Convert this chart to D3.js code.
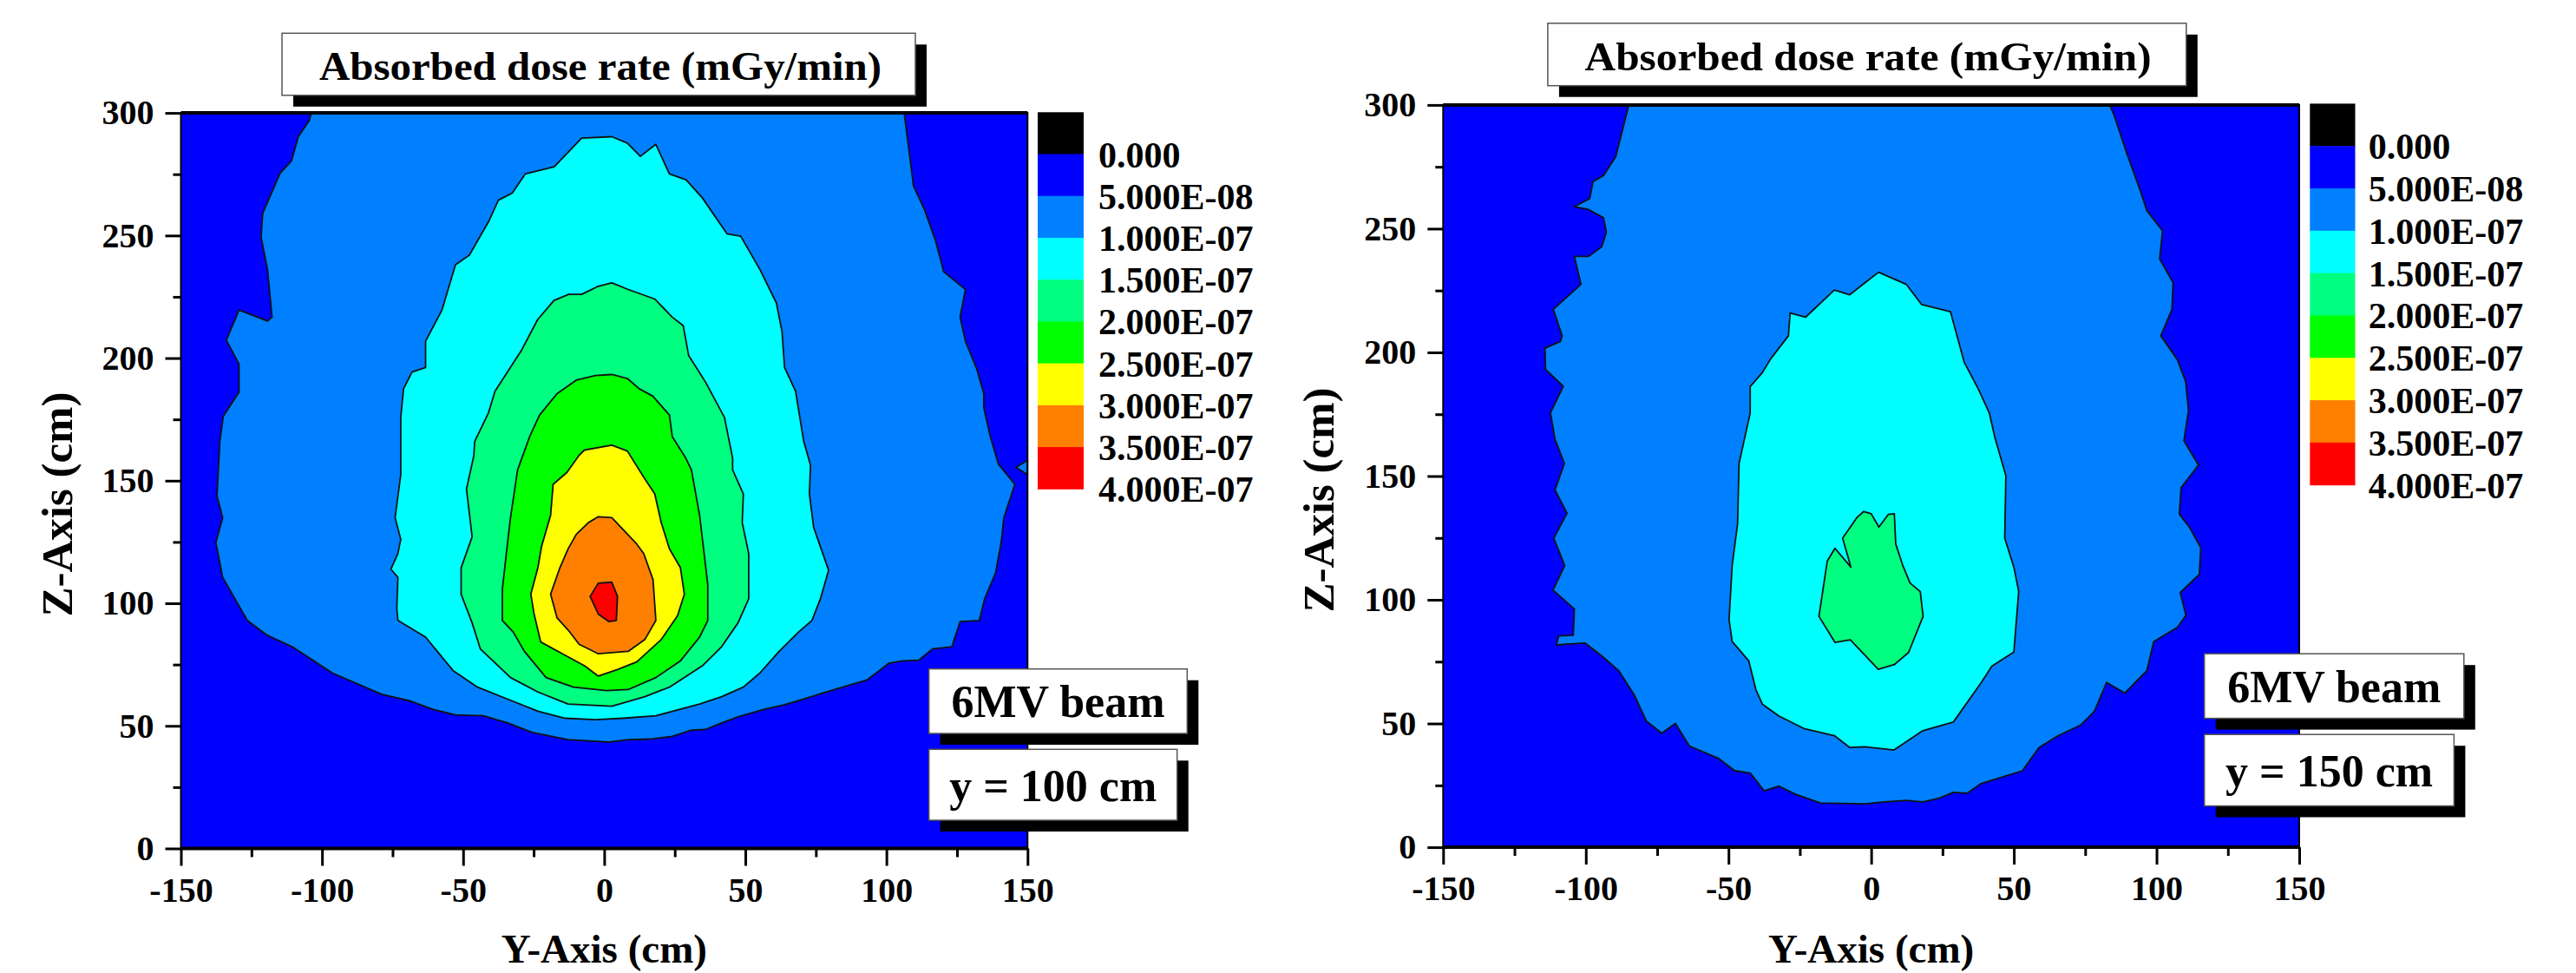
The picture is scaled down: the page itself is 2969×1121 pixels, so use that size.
<!DOCTYPE html>
<html>
<head>
<meta charset="utf-8">
<script src="https://cdnjs.cloudflare.com/ajax/libs/d3/7.8.5/d3.min.js"></script>
<style>
  body { margin: 0; background: #fff; }
  text { font-family: "Liberation Serif", "Times New Roman", serif; font-weight: bold; fill: #000; }
</style>
</head>
<body>
<svg id="chart" width="2969" height="1121"></svg>
<script>
// colour levels (mGy/min)
var levelLabels = ["0.000", "5.000E-08", "1.000E-07", "1.500E-07", "2.000E-07",
                   "2.500E-07", "3.000E-07", "3.500E-07", "4.000E-07"];
var levelColors = ["#000000", "#0000ff", "#0080ff", "#00ffff", "#00ff80",
                   "#00ff00", "#ffff00", "#ff8000", "#ff0000"];
var yTicks = [-150, -100, -50, 0, 50, 100, 150];
var zTicks = [0, 50, 100, 150, 200, 250, 300];

// contour boundaries, [Y cm, Z cm]
// y = 100 cm
var left5e8 = [[-103.8,300],[-104.5,296.9],[-108.4,290.3],[-110.8,280.5],[-112.3,278.6],[-114.8,275.5],[-121.0,259.1],[-121.6,249.4],[-119.3,236.1],[-117.7,216.7],[-119.3,215.1],[-129.4,219.6],[-133.9,207.3],[-129.4,197.6],[-129.4,186.1],[-135.0,176.2],[-136.2,166.0],[-137.2,143.7],[-135.2,134.9],[-137.6,124.8],[-135.2,110.6],[-126.5,93.0],[-119.7,87.2],[-110.0,81.9],[-96.4,71.6],[-78.9,62.9],[-69.2,60.3],[-60.4,56.6],[-52.7,54.5],[-42.9,54.1],[-34.2,51.2],[-25.5,47.3],[-12.8,44.4],[1.7,43.4],[8.5,44.4],[16.3,44.6],[24.1,45.7],[30.9,48.3],[35.8,48.5],[41.6,51.2],[47.4,53.7],[56.2,56.6],[63.9,58.6],[70.7,60.9],[78.5,63.8],[86.3,66.4],[93.1,68.7],[100.8,75.5],[105.7,76.5],[111.5,76.8],[116.4,81.4],[123.2,82.3],[126.1,92.5],[132.9,93.0],[134.8,101.8],[138.7,112.5],[140.7,125.2],[141.6,134.9],[145.5,148.5],[139.7,156.7],[136.8,168.0],[134.5,179.7],[134.5,185.5],[132.0,195.6],[128.0,206.9],[126.1,216.7],[128.0,228.0],[120.3,235.2],[117.4,247.8],[113.5,260.5],[109.6,270.2],[106.3,300]];
var left5e8Edge = [[145.9,155.4],[150,158.3],[150,152.5]];
var left1e7 = [[-8.0,289.7],[2.7,290.3],[8.2,287.7],[12.8,282.3],[18.3,287.2],[23.1,275.1],[29.0,272.7],[34.8,265.3],[43.5,250.7],[48.4,249.7],[55.2,236.1],[61.0,222.5],[63.0,210.8],[63.9,196.2],[67.8,186.5],[70.7,166.0],[73.1,156.3],[72.7,144.6],[74.2,131.0],[79.5,113.5],[76.6,101.8],[73.6,93.0],[68.8,88.2],[62.0,80.4],[55.2,71.6],[49.3,65.8],[41.6,61.9],[33.8,58.9],[18.3,54.1],[6.6,53.1],[-3.1,52.5],[-13.8,53.1],[-23.5,56.0],[-34.2,60.9],[-44.9,65.8],[-53.6,72.6],[-63.3,86.2],[-73.1,93.0],[-73.5,97.9],[-73.1,110.6],[-75.6,113.9],[-73.1,120.3],[-72.1,126.1],[-74.1,134.9],[-72.1,152.4],[-72.1,175.8],[-71.1,187.5],[-68.1,194.3],[-63.3,196.2],[-63.3,206.9],[-57.5,219.6],[-52.7,238.1],[-47.8,242.0],[-41.0,255.6],[-37.5,264.4],[-32.6,267.3],[-28.0,275.1],[-17.7,278.0]];
var left15e8 = [[-8.0,226.0],[-2.1,229.3],[2.7,230.7],[8.5,228.0],[17.9,224.1],[24.1,216.7],[28.0,213.2],[29.9,201.1],[35.8,190.4],[42.6,175.8],[45.5,159.2],[45.5,154.4],[49.3,144.6],[48.9,132.9],[51.2,120.3],[51.2,101.8],[47.4,92.0],[41.6,82.3],[34.8,74.5],[23.1,65.8],[14.4,61.9],[2.7,58.0],[-12.8,58.9],[-23.5,63.8],[-33.2,69.7],[-43.9,81.4],[-46.8,92.0],[-50.7,103.7],[-50.7,114.5],[-46.8,127.1],[-48.8,146.6],[-46.2,160.2],[-45.9,166.0],[-41.0,177.7],[-38.7,186.5],[-29.4,203.0],[-23.6,215.7],[-17.8,223.5],[-12.6,226.0]];
var left2e7 = [[-3.1,192.9],[2.7,193.3],[8.2,191.7],[12.4,187.5],[17.2,184.5],[23.1,176.8],[24.1,168.0],[28.9,159.2],[30.9,154.4],[33.8,135.9],[36.7,107.6],[36.7,93.0],[33.8,86.2],[27.0,76.5],[18.3,69.7],[8.5,64.8],[0.8,64.4],[-10.9,65.8],[-20.6,69.7],[-28.3,80.4],[-32.2,88.2],[-36.1,93.0],[-36.1,105.7],[-34.2,125.2],[-33.2,134.9],[-30.7,154.4],[-26.4,168.0],[-22.9,176.8],[-16.7,185.5],[-9.9,191.0]];
var left25e8 = [[-7.0,162.5],[2.7,164.5],[8.2,162.1],[14.0,151.4],[17.9,144.6],[20.2,132.9],[23.1,122.2],[27.0,114.5],[28.4,103.7],[26.0,95.0],[20.2,85.2],[11.5,76.1],[4.7,73.0],[-2.1,70.3],[-7.0,74.5],[-14.8,79.4],[-22.5,84.2],[-24.9,95.9],[-26.0,103.7],[-23.5,114.5],[-22.2,123.2],[-19.0,135.9],[-18.1,148.5],[-13.2,153.4],[-9.0,160.2]];
var left3e7 = [[-2.1,135.3],[2.7,134.9],[11.5,124.2],[14.0,120.3],[17.3,109.6],[18.3,93.0],[14.4,85.2],[8.5,80.4],[-2.1,79.4],[-8.9,83.3],[-12.8,89.1],[-16.7,94.0],[-19.0,103.7],[-15.7,114.5],[-12.8,122.2],[-9.9,128.1],[-5.6,132.9]];
var left35e8 = [[-2.1,108.2],[2.7,108.6],[4.7,102.8],[4.3,93.0],[1.7,92.5],[-2.1,95.6],[-5.0,102.8]];

// y = 150 cm
var right5e8 = [[-85.0,299.7],[-89.5,279.1],[-93.8,271.5],[-97.5,269.0],[-98.6,262.2],[-104.0,258.9],[-99.0,257.7],[-93.8,254.4],[-92.8,248.5],[-94.4,242.7],[-99.0,238.8],[-104.0,238.8],[-101.7,227.5],[-111.4,217.4],[-108.3,206.7],[-108.9,204.4],[-114.3,201.7],[-114.1,193.1],[-107.9,186.3],[-112.4,175.6],[-110.8,164.9],[-107.5,155.1],[-110.8,144.4],[-106.6,135.0],[-111.2,124.9],[-107.4,113.8],[-111.5,103.9],[-104.0,96.3],[-104.4,85.7],[-109.5,85.4],[-110.3,81.7],[-107.0,82.1],[-100.2,82.5],[-94.4,77.3],[-88.5,71.4],[-83.1,61.7],[-78.8,51.0],[-73.4,46.1],[-68.6,50.0],[-63.7,40.9],[-53.6,36.0],[-47.8,30.9],[-42.4,30.0],[-37.5,22.8],[-32.3,24.7],[-26.5,21.4],[-17.8,17.9],[-2.2,17.5],[4.5,18.3],[12.3,18.9],[18.1,18.3],[23.9,19.8],[28.8,22.2],[33.6,21.8],[38.5,25.7],[53.0,30.9],[58.8,40.3],[65.6,45.1],[73.4,49.4],[78.2,54.9],[82.5,66.6],[88.9,62.3],[96.6,71.4],[99.0,83.1],[107.3,88.9],[110.3,93.8],[108.3,102.9],[115.0,110.3],[115.5,121.0],[111.6,129.2],[108.0,134.6],[108.6,145.3],[114.7,154.5],[109.6,164.3],[111.2,176.5],[110.2,188.2],[107.3,197.0],[101.5,206.7],[105.4,217.4],[105.8,228.1],[101.1,237.8],[102.1,249.1],[96.6,257.3],[94.1,266.0],[89.8,279.7],[85.0,296.2],[83.6,300]];
var right1e7 = [[2.6,232.4],[12.3,227.5],[17.7,219.3],[27.8,216.4],[32.6,196.0],[37.5,185.3],[41.4,175.5],[43.3,165.8],[47.2,150.2],[46.8,124.9],[50.0,113.2],[51.7,103.4],[50.0,78.9],[42.3,73.2],[38.5,66.4],[28.8,50.6],[18.1,47.1],[8.0,39.3],[-2.2,40.6],[-7.5,40.3],[-12.9,45.1],[-23.6,48.0],[-32.3,53.0],[-38.1,57.8],[-40.4,63.7],[-42.9,75.3],[-48.7,83.1],[-49.8,91.9],[-48.7,114.1],[-46.8,130.8],[-46.3,155.1],[-42.4,175.5],[-42.4,186.2],[-38.1,191.9],[-35.2,197.4],[-29.0,206.7],[-28.4,215.9],[-23.0,214.2],[-12.9,225.2],[-7.5,223.3],[-1.7,228.6]];
var right15e8 = [[-2.6,135.7],[-5.1,133.1],[-10.0,124.9],[-7.1,113.2],[-12.7,120.8],[-15.4,115.6],[-18.3,93.3],[-12.7,82.8],[-7.3,83.8],[2.5,71.9],[8.1,73.8],[13.1,78.7],[18.2,93.3],[17.2,103.3],[13.6,106.8],[11.1,113.8],[8.6,122.6],[8.1,134.8],[6.0,134.5],[2.7,129.4],[0.0,134.8]];

var panels = [
  { x0: 208.5, x1: 1184.3, top: 130.1, bottom: 977.5,
    bar: { x: 1196, w: 53, top: 129.3, bottom: 563.3, labelX: 1266 },
    title: { x: 325, y: 38.3, w: 730, h: 71.5, tx: 368, tw: 648 },
    boxes: [ { x: 1070.7, y: 770.7, w: 297.6, h: 74.3, text: "6MV beam" },
             { x: 1070.7, y: 863.3, w: 286, h: 81.7, text: "y = 100 cm" } ],
    zLabelY: 581,
    contours: [ { level: 2, pts: left5e8 }, { level: 2, pts: left5e8Edge },
                { level: 3, pts: left1e7 }, { level: 4, pts: left15e8 },
                { level: 5, pts: left2e7 }, { level: 6, pts: left25e8 },
                { level: 7, pts: left3e7 }, { level: 8, pts: left35e8 } ] },
  { x0: 1663.3, x1: 2650, top: 120.9, bottom: 976.1,
    bar: { x: 2662.3, w: 52.2, top: 119.4, bottom: 558.7, labelX: 2729.7 },
    title: { x: 1783.9, y: 26.8, w: 735.9, h: 71.9, tx: 1826.6, tw: 653 },
    boxes: [ { x: 2540.7, y: 753.2, w: 299.1, h: 74.4, text: "6MV beam" },
             { x: 2540.7, y: 846.2, w: 287.7, h: 82.3, text: "y = 150 cm" } ],
    zLabelY: 576,
    contours: [ { level: 2, pts: right5e8 }, { level: 3, pts: right1e7 },
                { level: 4, pts: right15e8 } ] }
];

var svg = d3.select("#chart");
svg.append("rect").attr("width", 2969).attr("height", 1121).attr("fill", "#fff");

function shadowBox(g, x, y, w, h, off) {
  g.append("rect").attr("x", x + off).attr("y", y + off).attr("width", w).attr("height", h)
    .attr("fill", "#000");
  g.append("rect").attr("x", x).attr("y", y).attr("width", w).attr("height", h)
    .attr("fill", "#fff").attr("stroke", "#555").attr("stroke-width", 1.5);
}

function drawPanel(p, idx) {
  var g = svg.append("g");
  var x = d3.scaleLinear().domain([-150, 150]).range([p.x0, p.x1]);
  var y = d3.scaleLinear().domain([0, 300]).range([p.bottom, p.top]);

  g.append("clipPath").attr("id", "clip" + idx)
    .append("rect").attr("x", p.x0).attr("y", p.top)
    .attr("width", p.x1 - p.x0).attr("height", p.bottom - p.top);

  var plot = g.append("g").attr("clip-path", "url(#clip" + idx + ")");
  plot.append("rect").attr("x", p.x0).attr("y", p.top)
    .attr("width", p.x1 - p.x0).attr("height", p.bottom - p.top)
    .attr("fill", levelColors[1]);

  var line = d3.line().x(function(d) { return x(d[0]); })
                      .y(function(d) { return y(d[1]); })
                      .curve(d3.curveLinearClosed);
  plot.selectAll("path.level")
    .data(p.contours)
    .enter().append("path")
    .attr("class", "level")
    .attr("d", function(d) { return line(d.pts); })
    .attr("fill", function(d) { return levelColors[d.level]; })
    .attr("stroke", "#111")
    .attr("stroke-width", 1.8)
    .attr("stroke-linejoin", "round");

  // frame
  g.append("rect").attr("x", p.x0).attr("y", p.top)
    .attr("width", p.x1 - p.x0).attr("height", p.bottom - p.top)
    .attr("fill", "none").attr("stroke", "#000").attr("stroke-width", 2);
  g.append("line").attr("x1", p.x0).attr("x2", p.x1).attr("y1", p.top).attr("y2", p.top)
    .attr("stroke", "#000").attr("stroke-width", 4);
  g.append("line").attr("x1", p.x0).attr("x2", p.x1).attr("y1", p.bottom).attr("y2", p.bottom)
    .attr("stroke", "#000").attr("stroke-width", 4);

  // axes: minor ticks then major ticks
  var plain = function(d) { return String(d); };
  var minorY = d3.range(-125, 150, 50), minorZ = d3.range(25, 300, 50);
  var bx = g.append("g").attr("transform", "translate(0," + p.bottom + ")");
  bx.call(d3.axisBottom(x).tickValues(minorY).tickSize(10).tickFormat(""));
  bx.append("g").call(d3.axisBottom(x).tickValues(yTicks).tickSize(20).tickPadding(13).tickFormat(plain));
  var lx = g.append("g").attr("transform", "translate(" + p.x0 + ",0)");
  lx.call(d3.axisLeft(y).tickValues(minorZ).tickSize(9).tickFormat(""));
  lx.append("g").call(d3.axisLeft(y).tickValues(zTicks).tickSize(18).tickPadding(13).tickFormat(plain));
  g.selectAll(".domain").remove();
  g.selectAll(".tick line").attr("stroke", "#000").attr("stroke-width", 3);
  g.selectAll(".tick text")
    .style("font-family", "'Liberation Serif', 'Times New Roman', serif")
    .style("font-weight", "bold").style("font-size", "40px").attr("fill", "#000");

  // axis titles
  g.append("text").attr("x", (p.x0 + p.x1) / 2).attr("y", 1109)
    .attr("text-anchor", "middle").style("font-size", "47px").text("Y-Axis (cm)");
  g.append("text")
    .attr("transform", "translate(" + (p.x0 - 126) + "," + p.zLabelY + ") rotate(-90)")
    .attr("text-anchor", "middle").style("font-size", "51px").text("Z-Axis (cm)");

  // colour bar
  var bs = d3.scaleLinear().domain([0, levelColors.length]).range([p.bar.top, p.bar.bottom]);
  g.selectAll("rect.band").data(levelColors).enter().append("rect")
    .attr("class", "band")
    .attr("x", p.bar.x).attr("width", p.bar.w)
    .attr("y", function(d, i) { return bs(i); })
    .attr("height", function(d, i) { return bs(i + 1) - bs(i) + 0.5; })
    .attr("fill", function(d) { return d; });
  g.selectAll("text.lev").data(levelLabels).enter().append("text")
    .attr("class", "lev")
    .attr("x", p.bar.labelX)
    .attr("y", function(d, i) { return bs(i + 1) + 15; })
    .style("font-size", "42px")
    .text(function(d) { return d; });

  // title box
  var t = p.title;
  shadowBox(g, t.x, t.y, t.w, t.h, 13);
  g.append("text").attr("x", t.tx).attr("y", t.y + t.h / 2 + 18)
    .attr("textLength", t.tw).attr("lengthAdjust", "spacingAndGlyphs")
    .style("font-size", "47px").text("Absorbed dose rate (mGy/min)");

  // annotation boxes
  p.boxes.forEach(function(b) {
    shadowBox(g, b.x, b.y, b.w, b.h, 13);
    g.append("text").attr("x", b.x + b.w / 2).attr("y", b.y + b.h / 2 + 18.5)
      .attr("text-anchor", "middle").style("font-size", "52px").text(b.text);
  });
}

panels.forEach(drawPanel);
</script>
</body>
</html>
